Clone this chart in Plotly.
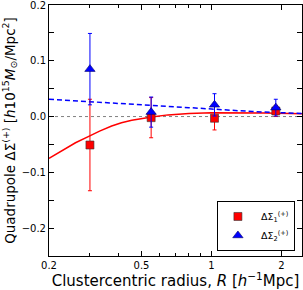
import numpy as np
import plotly.graph_objects as go

# Data
R_obs = [0.30, 0.55, 1.03, 1.89]
ds1 = [-0.051, -0.002, -0.003, 0.010]
err1 = [0.082, 0.036, 0.021, 0.010]
ds2 = [0.085, 0.008, 0.021, 0.016]
err2 = [0.064, 0.027, 0.020, 0.015]

R_mod1 = [0.2, 0.234, 0.26, 0.295, 0.33, 0.372, 0.41, 0.454, 0.5, 0.553, 0.65, 0.8, 1.0, 1.3, 1.7, 2.45]
mod1 = [-0.075, -0.059, -0.047, -0.036, -0.026, -0.017, -0.011, -0.0066, -0.003, -0.0006,
        0.003, 0.0055, 0.0066, 0.0068, 0.0062, 0.005]
R_mod2 = [0.2, 0.3, 0.5, 0.8, 1.0, 1.5, 2.45]
mod2 = [0.031, 0.027, 0.021, 0.016, 0.0135, 0.009, 0.0055]

x_ticks = [0.2, 0.5, 1, 2]
x_ticklabels = ["0.2", "0.5", "1", "2"]
x_minor = [0.3, 0.4, 0.6, 0.7, 0.8, 0.9]
y_ticks = [-0.2, -0.1, 0.0, 0.1, 0.2]
y_ticklabels = ["\u22120.2", "\u22120.1", "0.0", "0.1", "0.2"]

RED = "#ff0000"
BLUE = "#0000ff"
FONT = "DejaVu Sans"

fig = go.Figure()

fig.add_trace(go.Scatter(x=R_mod1, y=mod1, mode="lines", line=dict(color=RED, width=1.5),
                         showlegend=False, hoverinfo="skip"))
fig.add_trace(go.Scatter(x=R_mod2, y=mod2, mode="lines", line=dict(color=BLUE, width=1.5, dash="5px,3px"),
                         showlegend=False, hoverinfo="skip"))

fig.add_trace(go.Scatter(
    x=R_obs, y=ds1, mode="markers", name="\u00a0\u0394\u03a3<sub>1</sub><sup>(+)</sup>",
    marker=dict(symbol="square", size=8, color=RED, line=dict(color="#333333", width=0.6)),
    error_y=dict(type="data", array=err1, color=RED, thickness=1, width=2),
))
fig.add_trace(go.Scatter(
    x=R_obs, y=ds2, mode="markers", name="\u00a0\u0394\u03a3<sub>2</sub><sup>(+)</sup>",
    marker=dict(symbol="triangle-up", size=9, color=BLUE, line=dict(color="#000066", width=0.6)),
    error_y=dict(type="data", array=err2, color=BLUE, thickness=1, width=2),
))

fig.add_shape(type="line", xref="paper", x0=0, x1=1, yref="y", y0=0, y1=0,
              line=dict(color="#808080", width=1, dash="dot"), layer="below")

fig.update_layout(
    width=303, height=290,
    margin=dict(l=49, r=1, t=5, b=34, autoexpand=False),
    paper_bgcolor="white", plot_bgcolor="white",
    font=dict(family=FONT, size=10, color="black"),
    legend=dict(x=0.972, y=0.02, xanchor="right", yanchor="bottom",
                bordercolor="black", borderwidth=1, bgcolor="white",
                font=dict(size=9.5, family=FONT, color="black"), itemwidth=30,
                tracegroupgap=0),
)

fig.update_xaxes(
    type="log", range=[np.log10(0.2), np.log10(2.45)],
    tickvals=x_ticks, ticktext=x_ticklabels,
    ticks="inside", ticklen=5, tickwidth=1, tickcolor="black",
    minor=dict(tickvals=x_minor, ticks="inside", ticklen=3, tickcolor="black"),
    showline=True, linecolor="black", linewidth=1, mirror="allticks",
    showgrid=False, zeroline=False, automargin=False, ticklabeloverflow="allow",
    tickfont=dict(size=10, family=FONT),
    title=dict(text="Clustercentric radius, <i>R</i> [<i>h</i><sup>\u22121</sup>Mpc]",
               font=dict(size=15, family=FONT), standoff=2),
)
fig.update_yaxes(
    range=[-0.25, 0.2],
    tickvals=y_ticks, ticktext=y_ticklabels,
    ticks="inside", ticklen=5, tickwidth=1, tickcolor="black",
    minor=dict(dtick=0.05, tick0=0, ticks="inside", ticklen=5, tickcolor="black"),
    showline=True, linecolor="black", linewidth=1, mirror="allticks",
    showgrid=False, zeroline=False, automargin=False, ticklabeloverflow="allow",
    tickfont=dict(size=10, family=FONT),
    title=dict(text="Quadrupole \u0394\u03a3<sup>(+)</sup> [<i>h</i>10<sup>15</sup><i>M</i><sub>\u2299</sub>/Mpc<sup>2</sup>]",
               font=dict(size=13.5, family=FONT), standoff=3),
)

fig.write_html("out.html", config={"displayModeBar": False},
               post_script="document.body.style.margin='0';document.body.style.overflow='hidden';")
